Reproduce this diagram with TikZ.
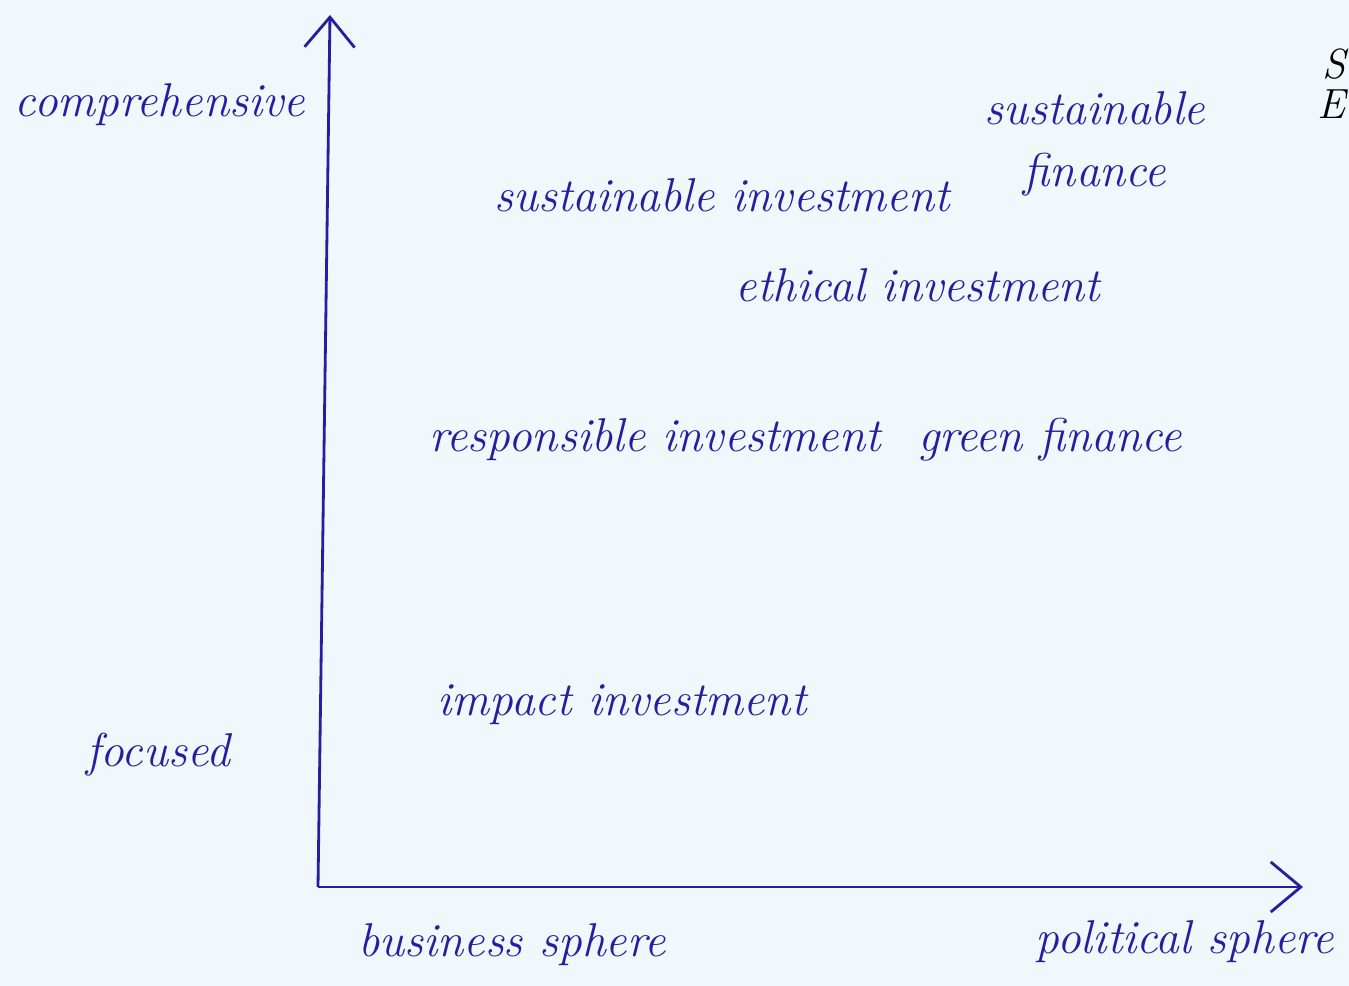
\documentclass[tikz,border=0pt]{standalone}
\usepackage{xcolor}
\usepackage{tikz}
\usetikzlibrary{positioning,arrows.meta}
\definecolor{ink}{RGB}{38,30,158}
\definecolor{paper}{RGB}{240,248,251}

\begin{document}
\begin{tikzpicture}[
    >={Straight Barb[length=0.6cm,width=1cm]},
    axis/.style = {draw=ink, line width=1.6pt, ->},
    hand/.style = {text=ink, inner sep=0pt, font=\itshape\fontsize{27}{30}\selectfont},
    cut/.style  = {text=black, inner sep=0pt, anchor=east, font=\itshape\fontsize{24}{28}\selectfont}
  ]
    \fill[paper] (0,0) rectangle (26.98,19.72);
    \useasboundingbox (0,0) rectangle (26.98,19.72);

    % axes
    \coordinate (o) at (6.36, 1.98);
    \coordinate (ytip) at (6.6, 19.42);
    \coordinate (xtip) at (26.06, 1.98);
    \draw[axis] (o) -- (ytip);
    \draw[axis] (o) -- (xtip);

    % axis labels
    \node[hand] (comp) at (3.2, 17.62) {comprehensive};
    \node[hand] (foc) at (3.16, 4.62) {focused};
    \node[hand] (bus) at (10.24, 0.82) {business sphere};
    \node[hand] (pol) at (23.7, 0.88) {political sphere};

    % terms
    \node[hand] (sfa) at (21.9, 17.56) {sustainable};
    \node[hand, below = 0.55cm of sfa] (sfb) {finance};
    \node[hand] (sinv) at (14.44, 15.82) {sustainable investment};
    \node[hand] (eth) at (18.36, 14.02) {ethical investment};
    \node[hand] (resp) at (13.1, 10.92) {responsible investment};
    \node[hand] (green) at (21.0, 10.92) {green finance};
    \node[hand] (imp) at (12.44, 5.62) {impact investment};

    % letters at the right edge
    \node[cut] (s1) at (26.92, 18.44) {S};
    \node[cut] (s2) at (26.92, 17.64) {E};
\end{tikzpicture}
\end{document}
